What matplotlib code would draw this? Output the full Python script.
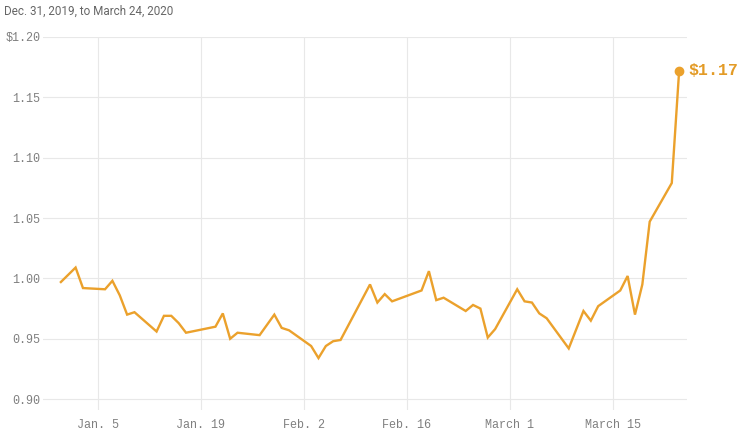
import pandas as pd
import matplotlib.pyplot as plt
import matplotlib.dates as mdates
from matplotlib import font_manager

# Precios (días hábiles, 31 dic 2019 - 24 mar 2020)
dates = ["2019-12-31", "2020-01-02", "2020-01-03", "2020-01-06", "2020-01-07",
         "2020-01-08", "2020-01-09", "2020-01-10", "2020-01-13", "2020-01-14",
         "2020-01-15", "2020-01-16", "2020-01-17", "2020-01-21", "2020-01-22",
         "2020-01-23", "2020-01-24", "2020-01-27", "2020-01-29", "2020-01-30",
         "2020-01-31", "2020-02-03", "2020-02-04", "2020-02-05", "2020-02-06",
         "2020-02-07", "2020-02-11", "2020-02-12", "2020-02-13", "2020-02-14",
         "2020-02-18", "2020-02-19", "2020-02-20", "2020-02-21", "2020-02-24",
         "2020-02-25", "2020-02-26", "2020-02-27", "2020-02-28", "2020-03-02",
         "2020-03-03", "2020-03-04", "2020-03-05", "2020-03-06", "2020-03-09",
         "2020-03-11", "2020-03-12", "2020-03-13", "2020-03-16", "2020-03-17",
         "2020-03-18", "2020-03-19", "2020-03-20", "2020-03-23", "2020-03-24"]
prices = [0.997, 1.009, 0.992, 0.991, 0.998,
          0.986, 0.970, 0.972, 0.956, 0.969,
          0.969, 0.963, 0.955, 0.960, 0.971,
          0.950, 0.955, 0.953, 0.970, 0.959,
          0.957, 0.944, 0.934, 0.944, 0.948,
          0.949, 0.995, 0.980, 0.987, 0.981,
          0.990, 1.006, 0.982, 0.984, 0.973,
          0.978, 0.975, 0.951, 0.958, 0.991,
          0.981, 0.980, 0.971, 0.967, 0.942,
          0.973, 0.965, 0.977, 0.990, 1.002,
          0.970, 0.995, 1.047, 1.079, 1.172]

tick_dates = ["2020-01-05", "2020-01-19", "2020-02-02", "2020-02-16", "2020-03-01", "2020-03-15"]
tick_labels = ["Jan. 5", "Jan. 19", "Feb. 2", "Feb. 16", "March 1", "March 15"]
y_ticks = [0.90, 0.95, 1.00, 1.05, 1.10, 1.15, 1.20]
y_labels = ["0.90", "0.95", "1.00", "1.05", "1.10", "1.15", "$1.20"]

df = pd.DataFrame({"date": pd.to_datetime(dates), "price": prices})
orange = "#eba12c"
grey = "#7f7f7f"

installed = {f.name for f in font_manager.fontManager.ttflist}
title_font = "Liberation Sans Narrow" if "Liberation Sans Narrow" in installed else "Roboto"
title_size = 9.5 if title_font == "Liberation Sans Narrow" else 8.4

fig = plt.figure(figsize=(7.4, 4.47), dpi=100)
ax = fig.add_axes([0.0581, 0.0828, 0.8703, 0.8345])

ax.plot(df["date"], df["price"], color=orange, lw=1.7, solid_joinstyle="miter")
ax.plot(df["date"].iloc[-1], df["price"].iloc[-1], "o", color=orange, ms=6, clip_on=False)
ax.annotate("$%.2f" % df["price"].iloc[-1], (df["date"].iloc[-1], df["price"].iloc[-1]),
            xytext=(7, 0), textcoords="offset points", va="center", ha="left",
            color="#e39b26", fontsize=12, family="Liberation Mono", weight="bold",
            annotation_clip=False)

start = df["date"].iloc[0]
ax.set_xlim(start - pd.Timedelta(days=2.43), start + pd.Timedelta(days=85.07))
ax.set_ylim(0.891, 1.20)

ax.set_xticks(pd.to_datetime(tick_dates))
ax.set_xticklabels(tick_labels)
ax.set_yticks(y_ticks)
ax.set_yticklabels(y_labels)

for s in ax.spines.values():
    s.set_visible(False)
ax.tick_params(length=0, colors=grey, labelsize=8.5)
ax.tick_params(axis="x", pad=6.5)
ax.tick_params(axis="y", pad=2)
for lab in ax.get_xticklabels() + ax.get_yticklabels():
    lab.set_family("Liberation Mono")
ax.grid(True, color="#e8e8e8", lw=0.8)
ax.set_axisbelow(True)

fig.text(4 / 740, 1 - 11 / 447, "Dec. 31, 2019, to March 24, 2020", color="#666666",
         fontsize=title_size, family=title_font, va="center", ha="left")

fig.savefig("out.png", dpi=100)
